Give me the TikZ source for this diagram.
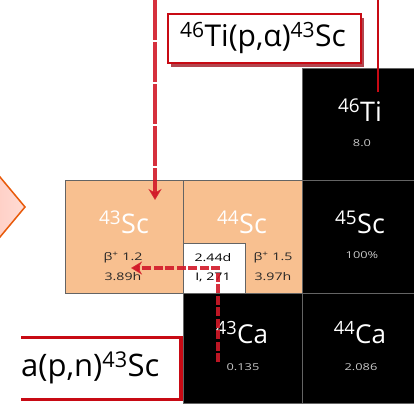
\documentclass[tikz,border=0pt]{standalone}
\usepackage{fontspec}
\setmainfont{Open Sans}
\usetikzlibrary{shadows,arrows.meta}
\definecolor{peach}{RGB}{248,192,144}
\definecolor{gridgray}{RGB}{100,100,100}
\definecolor{boxred}{RGB}{200,10,20}
\definecolor{arrred}{RGB}{210,25,40}
\definecolor{shadred}{RGB}{170,50,60}
\definecolor{chevor}{RGB}{232,90,10}
\definecolor{chevpink}{RGB}{255,196,184}
\definecolor{smallgray}{RGB}{200,200,200}
\newcommand{\wide}[1]{\scalebox{1.35}[1]{#1}}
\tikzset{
  blackcell/.style={draw=gridgray, line width=1.2pt, fill=black},
  orcell/.style={draw=gridgray, line width=1.2pt, fill=peach},
  bigw/.style={text=white, font=\fontsize{27}{29}\selectfont, inner sep=0pt},
  bigca/.style={text=white, font=\fontsize{26}{28}\selectfont, inner sep=0pt},
  smalld/.style={text=black!85, font=\fontsize{10.5}{11}\selectfont, inner sep=0pt},
  smallg/.style={text=smallgray, font=\fontsize{9.5}{10}\selectfont, inner sep=0pt},
  reaclabel/.style={font=\fontsize{30}{32}\selectfont, inner sep=0pt},
  dasharrow/.style={draw=arrred, opacity=0.9, line width=4.5pt, -{Stealth[length=11pt,width=13pt]}},
}
\begin{document}
\begin{tikzpicture}[x=1pt,y=-1pt]
\useasboundingbox (0,0) rectangle (414,405);
% chevron
\path[draw=chevor, line width=1.5pt, left color=chevpink, right color=chevpink!60] (-30,207) -- (0,177) -- (25,207) -- (0,237) -- cycle;
% cells
\node[blackcell, minimum width=112pt, minimum height=112pt, anchor=north west, inner sep=0pt] (ti46) at (302,68) {};
\node[orcell, minimum width=118pt, minimum height=113pt, anchor=north west, inner sep=0pt] (sc43) at (65,180) {};
\node[orcell, minimum width=119pt, minimum height=113pt, anchor=north west, inner sep=0pt] (sc44) at (183,180) {};
\node[blackcell, minimum width=112pt, minimum height=113pt, anchor=north west, inner sep=0pt] (sc45) at (302,180) {};
\node[blackcell, minimum width=119pt, minimum height=110pt, anchor=north west, inner sep=0pt] (ca43) at (183,293) {};
\node[blackcell, minimum width=112pt, minimum height=110pt, anchor=north west, inner sep=0pt] (ca44) at (302,293) {};
\node[draw=gridgray, line width=1.2pt, fill=white, minimum width=62pt, minimum height=50pt, anchor=north west, inner sep=0pt] (iso) at (183,243) {};
% labels
\node[bigw] (l46ti) at (360,110) {\textsuperscript{46}Ti};
\node[smallg] (a46ti) at (362,143) {\wide{8.0}};
\node[bigw] (l43sc) at (124,222) {\textsuperscript{43}Sc};
\node[smalld] (d43a) at (123,258) {\wide{β\textsuperscript{+} 1.2}};
\node[smalld] (d43b) at (123,277) {\wide{3.89h}};
\node[bigw] (l44sc) at (242,222) {\textsuperscript{44}Sc};
\node[smalld] (d44a) at (273,258) {\wide{β\textsuperscript{+} 1.5}};
\node[smalld] (d44b) at (273,277) {\wide{3.97h}};
\node[smalld, text=black] (isoa) at (213,258) {\wide{2.44d}};
\node[smalld, text=black] (isob) at (213,277) {\wide{I, 271}};
\node[bigw] (l45sc) at (360,222) {\textsuperscript{45}Sc};
\node[smallg] (a45sc) at (362,255) {\wide{100\%}};
\node[bigca] (l43ca) at (242,333) {\textsuperscript{43}Ca};
\node[smallg] (a43ca) at (243,367) {\wide{0.135}};
\node[bigca] (l44ca) at (360,333) {\textsuperscript{44}Ca};
\node[smallg] (a44ca) at (361,367) {\wide{2.086}};
% top reaction label
\node[draw=boxred, line width=2pt, fill=white, minimum width=193pt, minimum height=49pt, inner sep=0pt,
  drop shadow={shadow xshift=3pt, shadow yshift=-4pt, fill=shadred, opacity=0.9}] (reacti) at (264.5,38) {};
\node[reaclabel] (reactitext) at (263,38) {\textsuperscript{46}Ti(p,α)\textsuperscript{43}Sc};
% bottom reaction label
\path[fill=white] (21,337) rectangle (181,400);
\draw[boxred, line width=3.5pt] (21,337.5) -- (181,337.5) -- (181,399.5) -- (21,399.5);
\node[reaclabel, anchor=west, font=\fontsize{31}{33}\selectfont] (reacca) at (21,368) {a(p,n)\textsuperscript{43}Sc};
% connectors
\coordinate (topA) at (155,0);
\coordinate (topAend) at (155,200);
\draw[dasharrow, dash pattern=on 40pt off 2pt] (topA) -- (topAend);
\coordinate (tiS) at (378,0);
\coordinate (tiE) at (378,92);
\draw[boxred, line width=1.8pt] (tiS) -- (tiE);
\coordinate (caS) at (218,362);
\coordinate (scE) at (131,268);
\draw[dasharrow, dash pattern=on 9pt off 2.5pt] (caS) |- (scE);
\end{tikzpicture}
\end{document}
